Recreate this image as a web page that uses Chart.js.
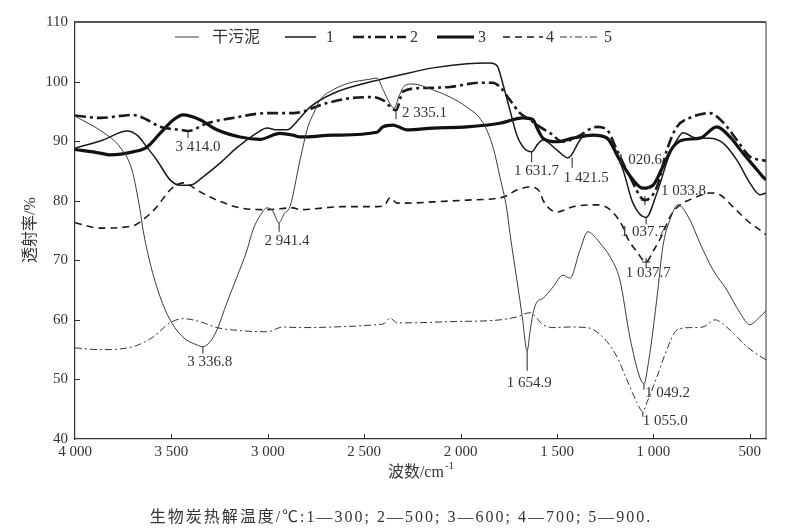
<!DOCTYPE html>
<html>
<head>
<meta charset="utf-8">
<script src="https://cdn.jsdelivr.net/npm/chart.js@4.4.0/dist/chart.umd.min.js"></script>
<style>
  html, body { margin: 0; background: #fff; }
  canvas { display: block; }
</style>
</head>
<body>
<canvas id="ftir" width="793" height="531"></canvas>
<script>
// 数据: 波数 (cm-1) 与透射率 (%)
const seriesNames = ['干污泥', '1', '2', '3', '4', '5'];

const sludgeWn = [4000,3855,3767,3705,3663,3647,3611,3559,3507,3440,3368,3337,3300,3264,3212,3160,3108,3077,3040,3004,2975,2942,2915,2885,2833,2792,2760,2729,2662,2574,2470,2434,2400,2370,2345,2320,2290,2252,2143,2055,1967,1884,1832,1796,1760,1744,1708,1680,1655,1640,1625,1604,1573,1521,1469,1433,1381,1340,1300,1277,1225,1174,1122,1070,1049,1025,1002,977,951,914,873,811,759,691,619,551,500,448,416];
const sludgeT = [94.2,91.5,89,85.2,78.5,75.1,69.6,63.9,60,57.1,55.8,55.5,56.3,58.3,62.9,67.2,71.7,75.1,77.5,78.8,78.3,76.3,77.8,79,86.8,92.4,94.8,96.9,98.6,99.8,100.4,100.6,98.5,96.5,95.5,97.5,99.3,99.6,98.6,97.4,95.7,93.1,89,84,78.5,74.5,66.7,60.5,54.8,58,61,63,63.6,65.5,67.5,67,71.7,74.8,73.8,72.9,70.6,66.7,57.1,50.3,49.3,53,58.3,65,72.3,76.8,79.3,76.8,72.9,68.4,65,61.2,59.2,60.5,61.5];

const s300Wn = [4000,3855,3730,3678,3627,3575,3507,3455,3404,3336,3248,3160,3056,3004,2952,2901,2833,2781,2662,2486,2315,2143,1967,1848,1810,1780,1744,1708,1670,1632,1600,1573,1500,1443,1366,1293,1225,1158,1106,1038,982,914,878,847,775,707,640,567,500,448,416];
const s300T = [88.8,90.2,91.7,91,89,86.8,83.5,82.6,82.6,84,86.3,88.9,91.4,92.2,91.9,91.9,93.9,95.7,98,99.8,101.1,102.3,103,103.1,102.6,99.5,95.2,91,88.8,88.2,89.5,90.2,88.5,87.2,90.7,91,90.2,85.2,79.6,77.2,81.3,88,90.2,91.4,90.5,90.5,89.7,86.8,83,81,81.3];

const s500Wn = [4000,3870,3699,3627,3559,3455,3414,3315,3181,3004,2869,2693,2574,2455,2403,2335,2299,2211,2055,1900,1832,1796,1744,1692,1640,1589,1537,1469,1397,1293,1241,1189,1122,1044,982,930,878,811,707,640,567,500,432,416];
const s500T = [94.3,93.9,94.4,93.6,92.4,91.9,91.7,93,93.9,94.7,94.7,96.4,97.2,97.4,96.9,95.2,98.3,98.9,99.1,99.8,99.8,99.1,96.9,94.7,93.6,92.4,91.4,89.9,90.7,92.4,91.9,88.5,84,80.1,82.3,88.5,92.4,93.9,94.7,93.2,90.2,87.4,86.8,86.7];

const s600Wn = [4000,3870,3818,3699,3627,3559,3492,3440,3352,3264,3144,3041,2937,2869,2833,2662,2434,2403,2351,2278,2143,1967,1796,1677,1625,1600,1573,1500,1417,1314,1241,1174,1106,1054,1002,951,899,847,759,671,603,536,463,432,416];
const s600T = [88.6,88,87.7,88.2,89,91.3,93.5,94.4,93.6,91.9,90.7,90.3,91.3,91,90.7,91,91.5,92.4,92.7,91.9,92.2,92.4,93,93.9,93.6,92,90.5,89.9,90.5,91,90.5,86.8,83.5,82.1,82.6,85.7,89,90.2,90.5,92.4,90.7,88,85.2,84,83.5];

const s700Wn = [4000,3870,3699,3647,3575,3507,3440,3352,3264,3144,3004,2869,2833,2610,2434,2395,2366,2330,2278,2143,1967,1780,1708,1640,1589,1573,1500,1417,1293,1225,1158,1137,1085,1038,1002,951,914,862,800,707,655,588,500,448,416];
const s700T = [76.3,75.4,75.8,76.8,79,81.8,83,81.5,80.1,78.8,78.5,78.8,78.5,79,79,79.2,80.5,79.6,79.6,79.8,80.1,80.6,81.8,82.3,81.5,80.1,78.1,79,79.3,78.5,75.6,73.9,71.4,69.7,71.5,74.5,77.3,79.3,80.3,81.3,81,79,76.3,75.1,74.3];

const s900Wn = [4000,3870,3699,3596,3507,3440,3352,3264,3144,3004,2921,2833,2662,2434,2395,2366,2330,2278,2055,1796,1708,1640,1573,1521,1433,1345,1262,1189,1137,1085,1055,1034,982,930,878,811,743,681,603,515,432,416];
const s900T = [55.3,55,55.5,57.1,59.5,60.2,59.7,58.7,58.2,58,58.8,58.7,58.8,59.2,59.4,60.3,59.5,59.5,59.7,60,60.5,61.2,59.2,58.7,58.8,58.7,57.1,53.8,49.9,46.1,44.6,46.1,50.4,55,58.3,58.7,58.8,60,58.3,55.5,53.6,53.3];

const xTicks = [4000, 3500, 3000, 2500, 2000, 1500, 1000, 500];
const yTicks = [40, 50, 60, 70, 80, 90, 100, 110];

// 峰位标注
const peakLabels = [
    { text: '3 414.0', wn: 3414, t: 91.7, mark: 'tick', len: 7, dx: 10, dy: 16 },
    { text: '3 336.8', wn: 3336.8, t: 55.5, mark: 'tick', len: 7, dx: 7, dy: 15 },
    { text: '2 941.4', wn: 2941.4, t: 76.3, mark: 'tick', len: 9, dx: 8, dy: 18 },
    { text: '2 335.1', wn: 2335.1, t: 95.2, mark: 'tick', len: 9, dx: 6, dy: 3, align: 'left' },
    { text: '1 631.7', wn: 1631.7, t: 88.3, mark: 'tick', len: 11, dx: 5, dy: 20 },
    { text: '1 421.5', wn: 1421.5, t: 87.2, mark: 'tick', len: 10, dx: 14, dy: 20 },
    { text: '1 020.6', wn: 1020.6, t: 82.1, mark: 'none', dx: -10, dy: -28 },
    { text: '1 033.8', wn: 1044, t: 80.1, mark: 'plus', dx: 16, dy: -9, align: 'left' },
    { text: '1 037.7', wn: 1037.7, t: 77.2, mark: 'tick', len: 7, dx: -3, dy: 15 },
    { text: '1 037.7', wn: 1037.7, t: 69.7, mark: 'plus', dx: 2, dy: 11 },
    { text: '1 654.9', wn: 1654.9, t: 54.8, mark: 'tick', len: 20, dx: 2, dy: 32 },
    { text: '1 049.2', wn: 1049.2, t: 49.3, mark: 'tick', len: 6, dx: 1, dy: 9, align: 'left' },
    { text: '1 055.0', wn: 1055, t: 44.6, mark: 'tick', len: 5, dx: 0, dy: 9, align: 'left' }
];

const lineStyles = [
    { w: 1, dash: [], color: '#3a3a3a' },
    { w: 1.5, dash: [], color: '#1a1a1a' },
    { w: 2.6, dash: [11, 4, 3, 4], color: '#1a1a1a' },
    { w: 3.2, dash: [], color: '#111' },
    { w: 1.6, dash: [7, 5], color: '#1a1a1a' },
    { w: 1, dash: [7, 3, 2, 3], color: '#333' }
];
const legendSlots = [
    { x0: 175, x1: 199, tx: 212 },
    { x0: 285, x1: 316, tx: 326 },
    { x0: 353, x1: 406, tx: 410 },
    { x0: 437, x1: 474, tx: 478 },
    { x0: 503, x1: 543, tx: 546 },
    { x0: 560, x1: 600, tx: 604 }
];

const serif = '"Liberation Serif", "Noto Sans CJK SC", serif';
const allWn = [sludgeWn, s300Wn, s500Wn, s600Wn, s700Wn, s900Wn];
const allT = [sludgeT, s300T, s500T, s600T, s700T, s900T];

const fmtWn = v => v >= 1000 ? Math.floor(v / 1000) + ' ' + String(v % 1000).padStart(3, '0') : String(v);

const decor = {
    id: 'decor',
    afterDraw(chart) {
        const { ctx, chartArea: a, scales: { x, y } } = chart;
        ctx.save();

        // 边框 (上、右)
        ctx.strokeStyle = '#555';
        ctx.lineWidth = 2;
        ctx.beginPath(); ctx.moveTo(a.left, a.top); ctx.lineTo(a.right, a.top); ctx.stroke();
        ctx.lineWidth = 1;
        ctx.strokeStyle = '#333';
        ctx.beginPath(); ctx.moveTo(a.right, a.top); ctx.lineTo(a.right, a.bottom); ctx.stroke();

        // 向内刻度
        ctx.beginPath();
        xTicks.forEach(v => {
            const px = Math.round(x.getPixelForValue(v)) + 0.5;
            if (v !== 4000) { ctx.moveTo(px, a.bottom); ctx.lineTo(px, a.bottom - 5); }
        });
        yTicks.forEach(v => {
            const py = Math.round(y.getPixelForValue(v)) + 0.5;
            if (v !== 40 && v !== 110) { ctx.moveTo(a.left, py); ctx.lineTo(a.left + 5, py); }
        });
        ctx.stroke();

        // 峰位标注
        ctx.fillStyle = '#333';
        ctx.strokeStyle = '#222';
        ctx.lineWidth = 1;
        ctx.font = '15px ' + serif;
        ctx.textBaseline = 'middle';
        peakLabels.forEach(p => {
            const px = x.getPixelForValue(p.wn), py = y.getPixelForValue(p.t);
            ctx.beginPath();
            if (p.mark === 'tick') { ctx.moveTo(px, py); ctx.lineTo(px, py + p.len); }
            if (p.mark === 'plus') { ctx.moveTo(px, py - 4); ctx.lineTo(px, py + 5); ctx.moveTo(px - 4, py); ctx.lineTo(px + 4, py); }
            ctx.stroke();
            ctx.textAlign = p.align || 'center';
            ctx.fillText(p.text, px + p.dx, py + p.dy);
        });

        // 图例
        ctx.font = '16px ' + serif;
        ctx.textAlign = 'left';
        legendSlots.forEach((s, i) => {
            const st = lineStyles[i];
            ctx.strokeStyle = st.color;
            ctx.lineWidth = st.w;
            ctx.setLineDash(st.dash);
            ctx.beginPath(); ctx.moveTo(s.x0, 37); ctx.lineTo(s.x1, 37); ctx.stroke();
            ctx.setLineDash([]);
            ctx.fillText(seriesNames[i], s.tx, 38);
        });

        // 轴标题
        ctx.font = '16px ' + serif;
        ctx.textAlign = 'left';
        const main = '波数/cm';
        const w1 = ctx.measureText(main).width;
        ctx.font = '11px ' + serif;
        const w2 = ctx.measureText('-1').width;
        const sx = (a.left + a.right) / 2 - (w1 + w2) / 2;
        ctx.font = '16px ' + serif;
        ctx.fillText(main, sx, 473);
        ctx.font = '11px ' + serif;
        ctx.fillText('-1', sx + w1 + 1, 466);

        ctx.save();
        ctx.translate(31, 230);
        ctx.rotate(-Math.PI / 2);
        ctx.font = '16px ' + serif;
        ctx.textAlign = 'center';
        ctx.fillText('透射率/%', 0, 0);
        ctx.restore();

        // 图注
        ctx.font = '16px ' + serif;
        ctx.textAlign = 'center';
        ctx.letterSpacing = '2px';
        ctx.fillText('生物炭热解温度/℃:1—300; 2—500; 3—600; 4—700; 5—900.', 401, 518);
        ctx.restore();
    }
};

new Chart(document.getElementById('ftir'), {
    type: 'line',
    data: {
        datasets: seriesNames.map((name, i) => ({
            label: name,
            data: allWn[i].map((wn, k) => ({ x: wn, y: allT[i][k] })),
            borderColor: lineStyles[i].color,
            borderWidth: lineStyles[i].w,
            borderDash: lineStyles[i].dash,
            pointRadius: 0,
            fill: false,
            tension: 0.4,
            cubicInterpolationMode: 'monotone'
        }))
    },
    options: {
        responsive: false,
        animation: false,
        devicePixelRatio: 1,
        layout: { padding: { top: 22, right: 27, left: 0, bottom: 0 } },
        plugins: { legend: { display: false }, tooltip: { enabled: false } },
        scales: {
            x: {
                type: 'linear',
                reverse: true,
                min: 416,
                max: 4000,
                afterBuildTicks: s => { s.ticks = xTicks.map(v => ({ value: v })); },
                afterFit: s => { s.height = 92; },
                ticks: {
                    autoSkip: false,
                    maxRotation: 0,
                    padding: 4,
                    color: '#333',
                    font: { family: serif, size: 15 },
                    callback: v => fmtWn(v)
                },
                grid: { display: false, drawTicks: false },
                border: { display: true, color: '#333', width: 1.2 }
            },
            y: {
                min: 40,
                max: 110,
                afterBuildTicks: s => { s.ticks = yTicks.map(v => ({ value: v })); },
                afterFit: s => { s.width = 75; },
                ticks: {
                    padding: 7,
                    color: '#333',
                    font: { family: serif, size: 15 }
                },
                grid: { display: false, drawTicks: false },
                border: { display: true, color: '#333', width: 1.2 }
            }
        }
    },
    plugins: [decor]
});
</script>
</body>
</html>
